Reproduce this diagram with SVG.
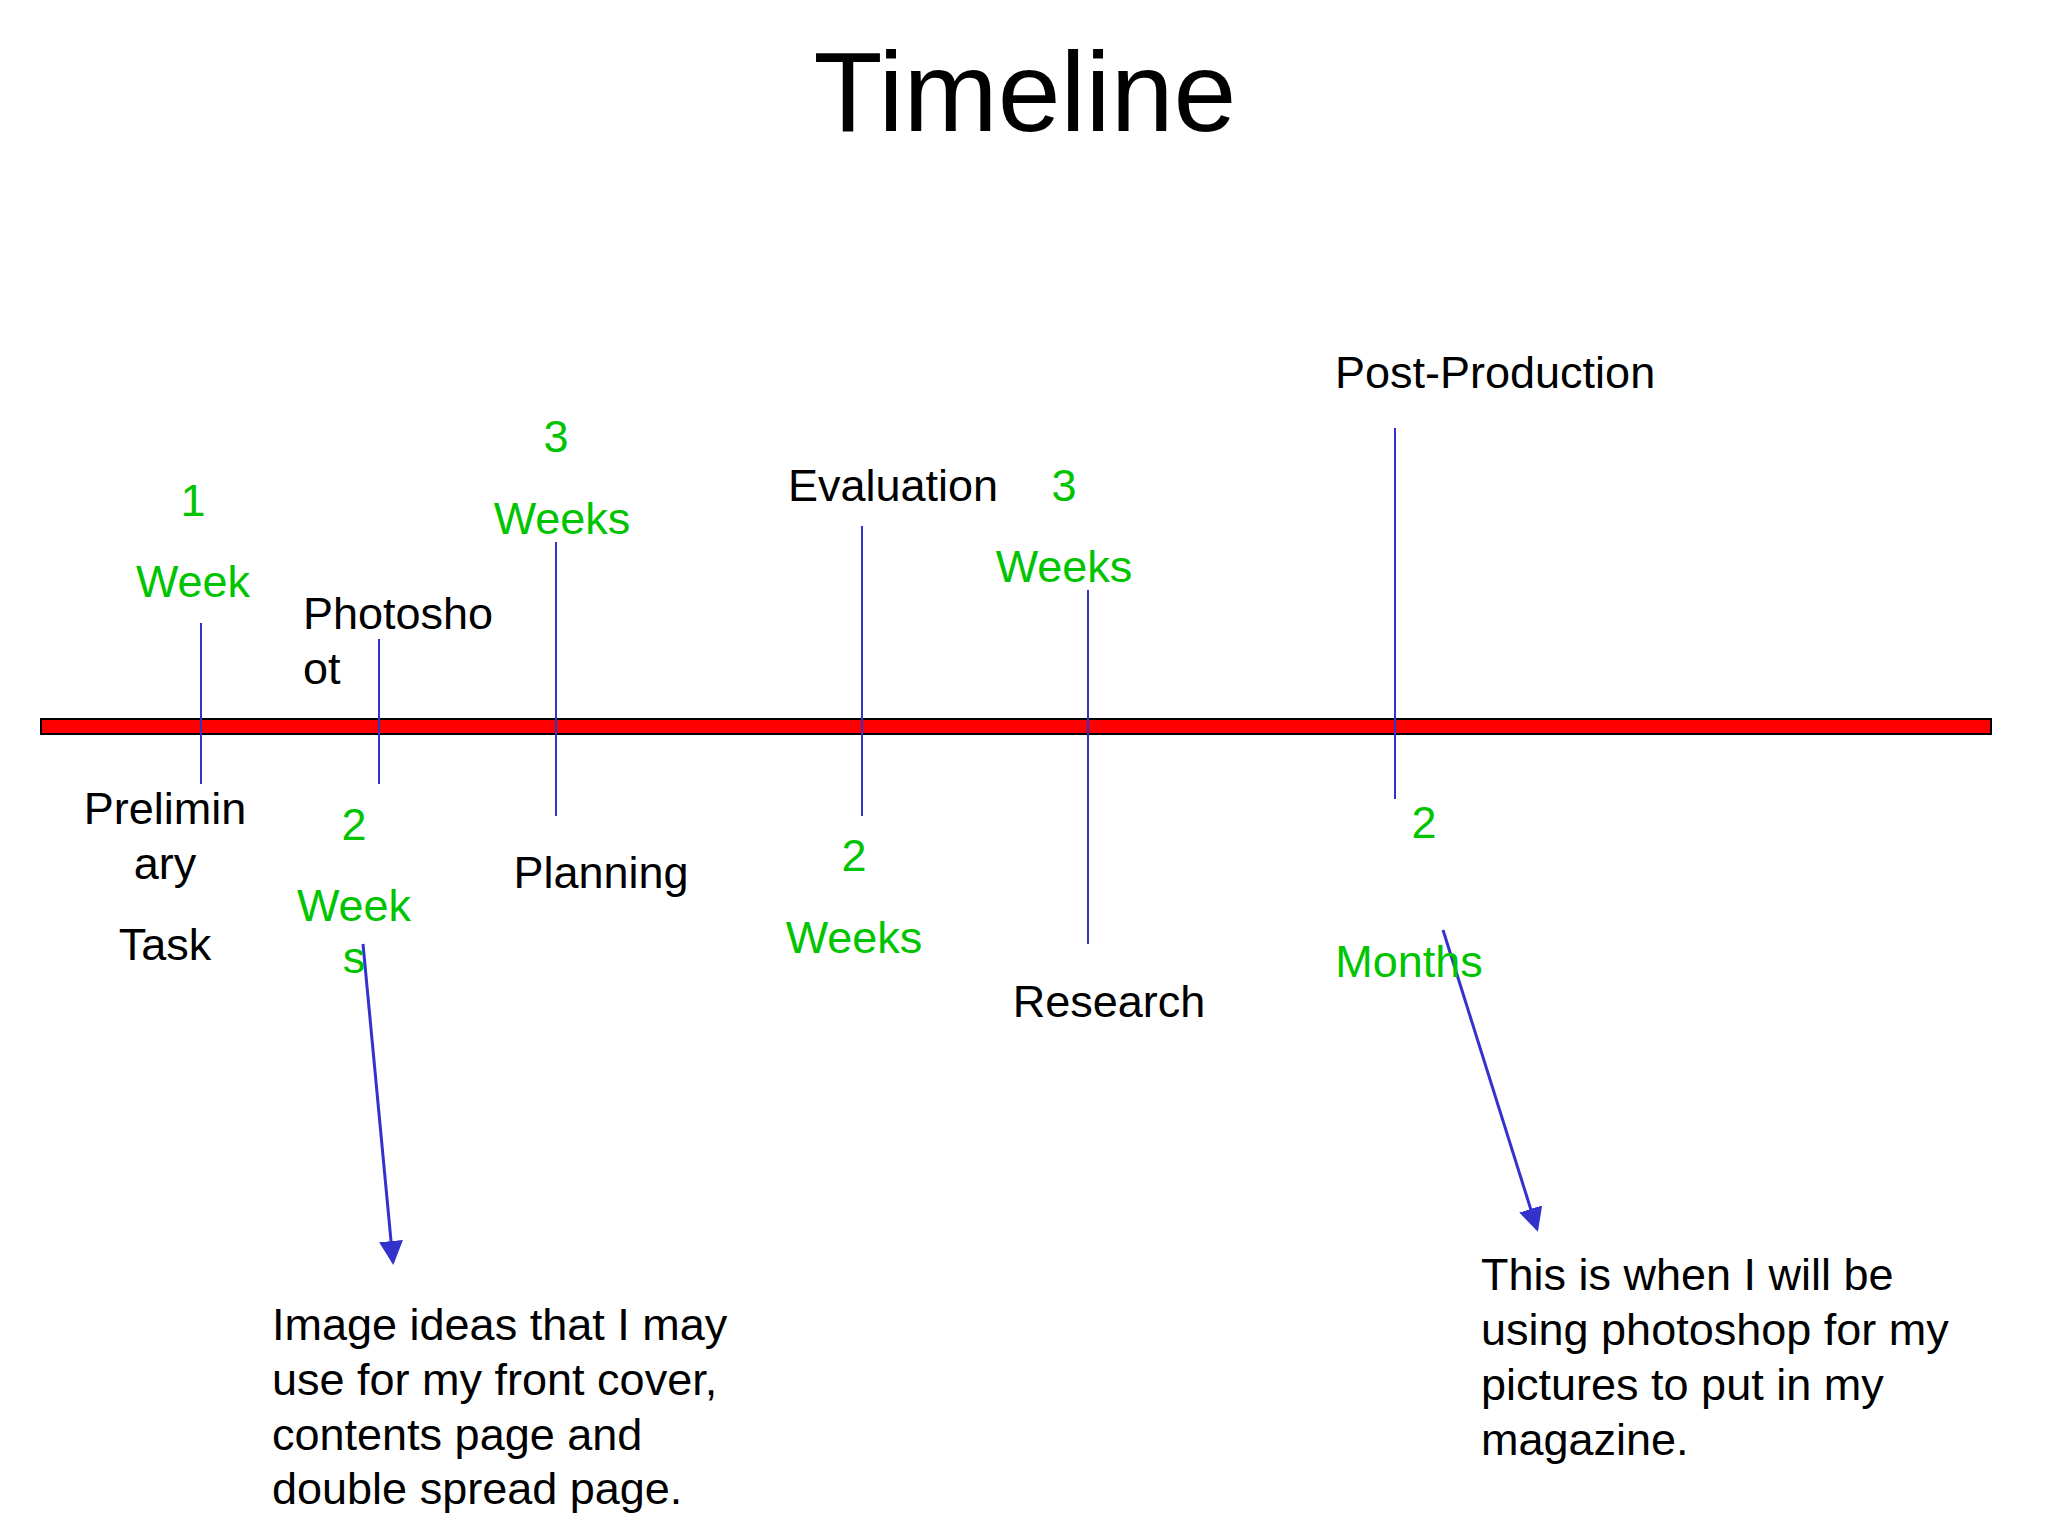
<svg xmlns="http://www.w3.org/2000/svg" width="2048" height="1536" viewBox="0 0 2048 1536">
<style>
text{font-family:"Liberation Sans",Arial,sans-serif;font-size:45px;fill:#000}
.g{fill:#00c400}
.m{text-anchor:middle}
.tick{stroke:#3333cc;stroke-width:2;fill:none}
.arr{stroke:#3333cc;stroke-width:3;fill:none;marker-end:url(#ah)}
</style>
<defs>
<marker id="ah" markerWidth="8" markerHeight="8" refX="7" refY="4" orient="auto" markerUnits="strokeWidth">
<path d="M0,0 L8,4 L0,8 z" fill="#3333cc"/>
</marker>
</defs>
<rect width="2048" height="1536" fill="#fff"/>
<g id="title"><text x="1025" y="131" class="m" style="font-size:113px">Timeline</text></g>
<g id="timeline-bar"><rect x="41" y="719" width="1950" height="15" fill="#ff0000" stroke="#000" stroke-width="2"/></g>
<g id="connectors">
<line class="tick" x1="201" y1="623" x2="201" y2="784"/>
<line class="tick" x1="379" y1="639" x2="379" y2="784"/>
<line class="tick" x1="556" y1="542" x2="556" y2="816"/>
<line class="tick" x1="862" y1="526" x2="862" y2="816"/>
<line class="tick" x1="1088" y1="590" x2="1088" y2="944"/>
<line class="tick" x1="1395" y1="428" x2="1395" y2="799"/>
<line class="arr" x1="363" y1="944" x2="393" y2="1262"/>
<line class="arr" x1="1443" y1="930" x2="1537" y2="1229"/>
</g>
<g id="preliminary">
<text x="193" y="516" class="g m">1</text>
<text x="193" y="597" class="g m">Week</text>
<text x="165" y="824" class="m">Prelimin</text>
<text x="165" y="879" class="m">ary</text>
<text x="165" y="960" class="m">Task</text>
</g>
<g id="photoshoot">
<text x="303" y="629">Photosho</text>
<text x="303" y="684">ot</text>
<text x="354" y="840" class="g m">2</text>
<text x="354" y="921" class="g m">Week</text>
<text x="354" y="973" class="g m">s</text>
</g>
<g id="planning">
<text x="556" y="452" class="g m">3</text>
<text x="562" y="534" class="g m">Weeks</text>
<text x="601" y="888" class="m">Planning</text>
</g>
<g id="evaluation">
<text x="788" y="501">Evaluation</text>
<text x="854" y="871" class="g m">2</text>
<text x="854" y="953" class="g m">Weeks</text>
</g>
<g id="research">
<text x="1064" y="501" class="g m">3</text>
<text x="1064" y="582" class="g m">Weeks</text>
<text x="1109" y="1017" class="m">Research</text>
</g>
<g id="post-production">
<text x="1335" y="388">Post-Production</text>
<text x="1424" y="838" class="g m">2</text>
<text x="1409" y="977" class="g m">Months</text>
</g>
<g id="note-images">
<text x="272" y="1340">Image ideas that I may</text>
<text x="272" y="1395">use for my front cover,</text>
<text x="272" y="1450">contents page and</text>
<text x="272" y="1504">double spread page.</text>
</g>
<g id="note-photoshop">
<text x="1481" y="1290">This is when I will be</text>
<text x="1481" y="1345">using photoshop for my</text>
<text x="1481" y="1400">pictures to put in my</text>
<text x="1481" y="1455">magazine.</text>
</g>
</svg>
